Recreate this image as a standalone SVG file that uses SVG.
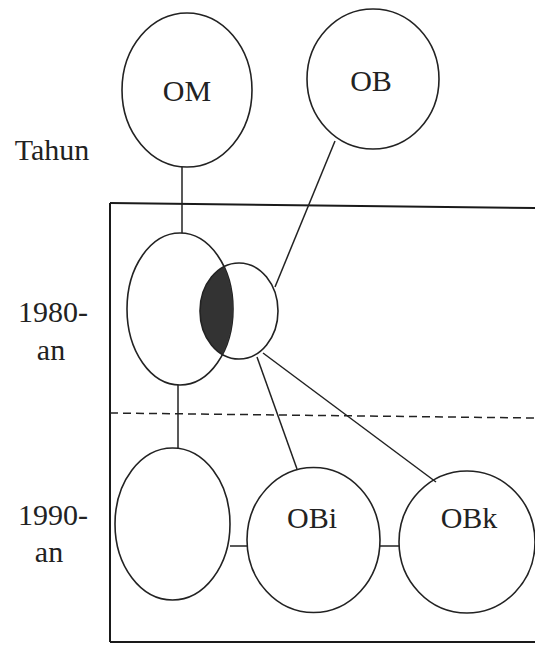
<svg xmlns="http://www.w3.org/2000/svg" width="535" height="645" viewBox="0 0 535 645">
<style>
.n{fill:none;stroke:#222;stroke-width:1.6}
.c{fill:none;stroke:#222;stroke-width:1.5}
.f{fill:none;stroke:#1a1a1a;stroke-width:2}
.t{font-family:'Liberation Serif','DejaVu Serif','Times New Roman',Times,serif;font-size:30px;fill:#222;text-anchor:middle}
</style>
<defs>
<clipPath id="bigclip"><ellipse cx="180" cy="309" rx="53" ry="76"/></clipPath>
</defs>
<rect width="535" height="645" fill="#fff"/>
<g id="frame">
<line class="f" x1="110" y1="203" x2="535" y2="208"/>
<line class="f" x1="110" y1="203" x2="110" y2="642"/>
<line class="f" x1="110" y1="642" x2="535" y2="642"/>
<line class="c" x1="110" y1="413" x2="535" y2="418" stroke-dasharray="8 5"/>
</g>
<g id="labels">
<text class="t" x="52" y="160" font-family="Liberation Serif, DejaVu Serif, serif">Tahun</text>
<text class="t" x="53" y="322" font-family="Liberation Serif, DejaVu Serif, serif">1980-</text>
<text class="t" x="51" y="360" font-family="Liberation Serif, DejaVu Serif, serif">an</text>
<text class="t" x="53" y="525" font-family="Liberation Serif, DejaVu Serif, serif">1990-</text>
<text class="t" x="49" y="562" font-family="Liberation Serif, DejaVu Serif, serif">an</text>
</g>
<g id="connectors">
<line class="c" x1="182" y1="167" x2="182" y2="233"/>
<line class="c" x1="335" y1="141" x2="275" y2="287"/>
<line class="c" x1="257" y1="357" x2="297" y2="469"/>
<line class="c" x1="263" y1="353" x2="436" y2="482"/>
<line class="c" x1="178" y1="385" x2="178" y2="448"/>
<line class="c" x1="230" y1="546" x2="247" y2="546"/>
<line class="c" x1="380" y1="546" x2="399" y2="546"/>
</g>
<g id="OM">
<ellipse class="n" cx="187" cy="90" rx="65" ry="77"/>
<text class="t" x="187" y="101">OM</text>
</g>
<g id="OB">
<ellipse class="n" cx="373" cy="79" rx="66" ry="70"/>
<text class="t" x="371" y="91">OB</text>
</g>
<g id="OM1980">
<ellipse class="n" cx="180" cy="309" rx="53" ry="76"/>
</g>
<g id="OB1980">
<ellipse cx="239" cy="311" rx="39" ry="48" fill="#333" clip-path="url(#bigclip)"/>
<ellipse class="n" cx="239" cy="311" rx="39" ry="48"/>
</g>
<g id="OM1990">
<ellipse class="n" cx="172.5" cy="524" rx="57.5" ry="76"/>
</g>
<g id="OBi">
<ellipse class="n" cx="313.5" cy="540" rx="66.5" ry="72.5"/>
<text class="t" x="312" y="528">OBi</text>
</g>
<g id="OBk">
<ellipse class="n" cx="467" cy="542" rx="68" ry="71"/>
<text class="t" x="469" y="528">OBk</text>
</g>
</svg>
